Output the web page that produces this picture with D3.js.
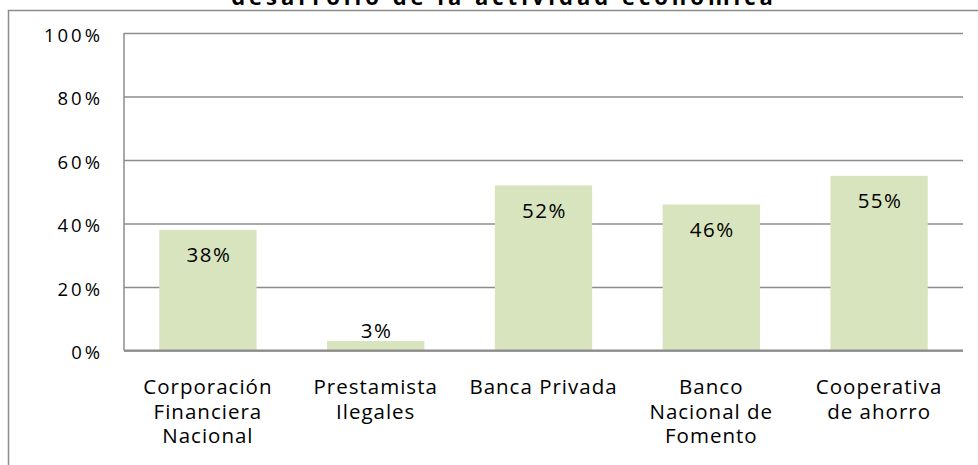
<!DOCTYPE html>
<html>
<head>
<meta charset="utf-8">
<script src="https://cdn.jsdelivr.net/npm/d3@7"></script>
<style>
  html, body { margin: 0; padding: 0; background: #fff; }
  svg { display: block; font-family: 'Open Sans', sans-serif; }
</style>
</head>
<body>
<div id="chart"></div>
<script>
const TITLE = 'desarrollo de la actividad económica';
const categories = [
  ['Corporación', 'Financiera', 'Nacional'],
  ['Prestamista', 'Ilegales'],
  ['Banca Privada'],
  ['Banco', 'Nacional de', 'Fomento'],
  ['Cooperativa', 'de ahorro']
];
const values = [0.38, 0.03, 0.52, 0.46, 0.55];
const yTicks = [0, 0.2, 0.4, 0.6, 0.8, 1];

const width = 978;
const height = 465;
const BAR_COLOR = '#d7e4bd';
const GRID_COLOR = '#8c8c8c';
const plot = {left: 124, right: 963, top: 33, bottom: 350.5};

const svg = d3.select('#chart')
  .append('svg')
    .attr('width', width)
    .attr('height', height);

// chart frame (runs off the right and bottom edges)
svg.append('rect')
  .attr('x', 8.5)
  .attr('y', 10.5)
  .attr('width', 1000)
  .attr('height', 500)
  .attr('fill', 'none')
  .attr('stroke', GRID_COLOR)
  .attr('stroke-width', 1.5);

// title, mostly cut off at the top as in the source
svg.append('text')
  .attr('x', 504)
  .attr('y', 5)
  .attr('text-anchor', 'middle')
  .attr('font-weight', 'bold')
  .attr('font-size', 22)
  .attr('letter-spacing', 4)
  .text(TITLE);

const x = d3.scaleBand()
  .domain(d3.range(categories.length))
  .range([plot.left, plot.right])
  .paddingInner(0.42)
  .paddingOuter(0.21);

const y = d3.scaleLinear()
  .domain([0, 1])
  .range([plot.bottom, plot.top]);

let yAxis = d3.axisLeft(y)
  .tickValues(yTicks)
  .tickSize(-(plot.right - plot.left))
  .tickPadding(21)
  .tickFormat(d3.format('.0%'));
yAxis = svg.append('g')
  .attr('transform', `translate(${plot.left},0)`)
  .call(yAxis);
yAxis.select('.domain').remove();
yAxis.selectAll('.tick line')
  .attr('stroke', GRID_COLOR)
  .attr('stroke-width', 1.5);
yAxis.selectAll('.tick text')
  .attr('font-family', 'Open Sans, sans-serif')
  .attr('font-size', 18.5)
  .attr('letter-spacing', 3)
  .attr('fill', '#000')
  .attr('dy', '0.45em');

// left axis line
svg.append('line')
  .attr('x1', plot.left)
  .attr('x2', plot.left)
  .attr('y1', y(1))
  .attr('y2', y(0))
  .attr('stroke', GRID_COLOR)
  .attr('stroke-width', 1.5);

svg.append('g')
  .selectAll('rect')
  .data(values)
  .enter().append('rect')
    .attr('x', (d, i) => x(i))
    .attr('y', (d) => y(d))
    .attr('width', x.bandwidth())
    .attr('height', (d) => y(0) - y(d))
    .attr('fill', BAR_COLOR);

// baseline over the bars
svg.append('line')
  .attr('x1', plot.left)
  .attr('x2', plot.right)
  .attr('y1', y(0))
  .attr('y2', y(0))
  .attr('stroke', GRID_COLOR)
  .attr('stroke-width', 2);

svg.append('g')
  .selectAll('text')
  .data(values)
  .enter().append('text')
    .attr('x', (d, i) => x(i) + x.bandwidth() / 2 + 1)
    .attr('y', (d) => (y(0) - y(d) > 40 ? y(d) + 25 : y(d) - 10))
    .attr('dy', '0.36em')
    .attr('text-anchor', 'middle')
    .attr('font-size', 20.5)
    .attr('letter-spacing', 1.5)
    .text((d) => d3.format('.0%')(d));

const labels = svg.append('g')
  .selectAll('text')
  .data(categories)
  .enter().append('text')
    .attr('text-anchor', 'middle')
    .attr('font-size', 20.5)
    .attr('letter-spacing', 1);
labels.selectAll('tspan')
  .data((d, i) => d.map((line) => ({line, i})))
  .enter().append('tspan')
    .attr('x', (d) => x(d.i) + x.bandwidth() / 2)
    .attr('y', (d, j) => 394 + j * 24.5)
    .text((d) => d.line);
</script>
</body>
</html>
